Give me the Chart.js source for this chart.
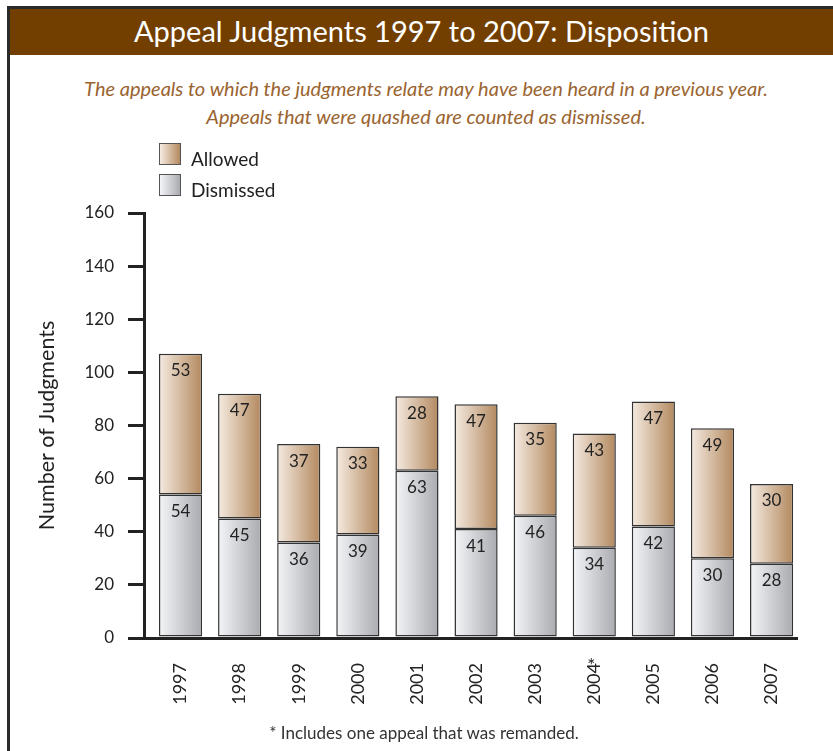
<!DOCTYPE html>
<html>
<head>
<meta charset="utf-8">
<script src="https://cdn.jsdelivr.net/npm/chart.js@4/dist/chart.umd.min.js"></script>
<style>
  html, body { margin:0; padding:0; background:#fff; }
  body { width:833px; height:751px; position:relative; overflow:hidden; font-family: Lato, "Noto Sans", sans-serif; }
  #frame { position:absolute; left:7px; top:6px; width:840px; height:760px; border-left:3px solid #2b2b2b; border-top:3px solid #2b2b2b; box-sizing:border-box; }
  #header { position:absolute; left:10px; top:9px; width:823px; height:46px; background:#733f00; color:#fff; font-size:29px; text-align:center; line-height:44px; }
  #sub { position:absolute; left:0; width:852px; top:74px; text-align:center; color:#9a6430; font-style:italic; font-size:20px; line-height:28px; }
  #legend { position:absolute; left:159px; top:143px; font-size:19px; color:#222; }
  .li { height:31px; display:flex; align-items:flex-start; }
  .box { width:20px; height:20px; border:1.5px solid #555; margin-right:10px; }
  .li span { line-height:22px; padding-top:5px; }
  #foot { position:absolute; left:0; width:848px; top:722px; text-align:center; font-size:17px; color:#333; }
  canvas { position:absolute; left:0; top:0; }
</style>
</head>
<body>
<div id="frame"></div>
<div id="header">Appeal Judgments 1997 to 2007: Disposition</div>
<div id="sub">The appeals to which the judgments relate may have been heard in a previous year.<br>Appeals that were quashed are counted as dismissed.</div>
<canvas id="c" width="833" height="751"></canvas>
<div id="legend">
  <div class="li"><div class="box" style="background:linear-gradient(to right,#f5ebe1,#b3895f)"></div><span>Allowed</span></div>
  <div class="li"><div class="box" style="background:linear-gradient(to right,#f4f5f7,#a9abb0)"></div><span>Dismissed</span></div>
</div>
<div id="foot">* Includes one appeal that was remanded.</div>
<script>
const categories = ['1997','1998','1999','2000','2001','2002','2003','2004','2005','2006','2007'];
const footnoted = ['2004'];
const dismissed = [54, 45, 36, 39, 63, 41, 46, 34, 42, 30, 28];
const allowed   = [53, 47, 37, 33, 28, 47, 35, 43, 47, 49, 30];
const yTicks = [0, 20, 40, 60, 80, 100, 120, 140, 160];
const yTitle = 'Number of Judgments';

const FONT = 'Lato, "Noto Sans", sans-serif';
const BAR_PCT = 0.73;
const fills = {
  Dismissed: ['#f4f5f7', '#a9abb0'],
  Allowed: ['#f5ebe1', '#b3895f']
};

const gradientPlugin = {
  id: 'barGradients',
  beforeDatasetsDraw(chart) {
    const c = chart.ctx;
    chart.data.datasets.forEach((ds, di) => {
      const stops = fills[ds.label];
      chart.getDatasetMeta(di).data.forEach(el => {
        const half = el.width / 2;
        const g = c.createLinearGradient(el.x - half, 0, el.x + half, 0);
        g.addColorStop(0, stops[0]);
        g.addColorStop(1, stops[1]);
        el.options.backgroundColor = g;
      });
    });
  }
};

const labelPlugin = {
  id: 'valueLabels',
  afterDatasetsDraw(chart) {
    const ctx = chart.ctx;
    ctx.save();
    ctx.font = '17px ' + FONT;
    ctx.fillStyle = '#222';
    ctx.textAlign = 'center';
    ctx.textBaseline = 'middle';
    chart.data.datasets.forEach((ds, di) => {
      const meta = chart.getDatasetMeta(di);
      meta.data.forEach((el, i) => {
        ctx.fillText(String(ds.data[i]), el.x, el.y + 17);
      });
    });
    const xs = chart.scales.x;
    ctx.font = '19px ' + FONT;
    footnoted.forEach(lab => {
      const px = xs.getPixelForValue(Number(lab));
      ctx.fillText('*', px - 3, xs.top + 28);
    });
    ctx.restore();
  }
};

const xMin = Number(categories[0]) - 0.618;
const xMax = Number(categories[categories.length - 1]) + 0.43;

new Chart(document.getElementById('c'), {
  type: 'bar',
  data: {
    labels: categories,
    datasets: [
      { label: 'Dismissed', data: dismissed, backgroundColor: () => fills.Dismissed[1],
        borderColor: '#333', borderWidth: 1.5, borderSkipped: false, barPercentage: BAR_PCT, categoryPercentage: 1 },
      { label: 'Allowed', data: allowed, backgroundColor: () => fills.Allowed[1],
        borderColor: '#333', borderWidth: 1.5, borderSkipped: false, barPercentage: BAR_PCT, categoryPercentage: 1 }
    ]
  },
  options: {
    responsive: false,
    animation: false,
    layout: { padding: { top: 213, right: 36, left: 0, bottom: 0 } },
    plugins: { legend: { display: false }, tooltip: { enabled: false } },
    scales: {
      x: {
        type: 'linear', stacked: true, min: xMin, max: xMax, offset: false,
        ticks: {
          stepSize: 1, includeBounds: false, autoSkip: false,
          minRotation: 90, maxRotation: 90, padding: 25,
          color: '#222', font: { family: FONT, size: 18 },
          callback: (v) => { const i = categories.indexOf(String(v)); return i >= 0 ? categories[i] : ''; }
        },
        grid: { display: false, drawTicks: false, offset: false },
        border: { display: true, width: 3, color: '#222' },
        afterFit(s) { s.height = 113; }
      },
      y: {
        stacked: true, min: yTicks[0], max: yTicks[yTicks.length - 1],
        afterBuildTicks(s) { s.ticks = yTicks.map(v => ({ value: v })); },
        ticks: { color: '#222', font: { family: FONT, size: 17 }, padding: 14 },
        grid: { drawOnChartArea: false, drawTicks: true, tickLength: 16, lineWidth: 3, color: '#222' },
        border: { display: true, width: 3, color: '#222' },
        title: { display: true, text: yTitle, color: '#222', font: { family: FONT, size: 21.5 }, padding: { top: 34, bottom: 0 } },
        afterFit(s) { s.width = 144; }
      }
    }
  },
  plugins: [gradientPlugin, labelPlugin]
});
</script>
</body>
</html>
